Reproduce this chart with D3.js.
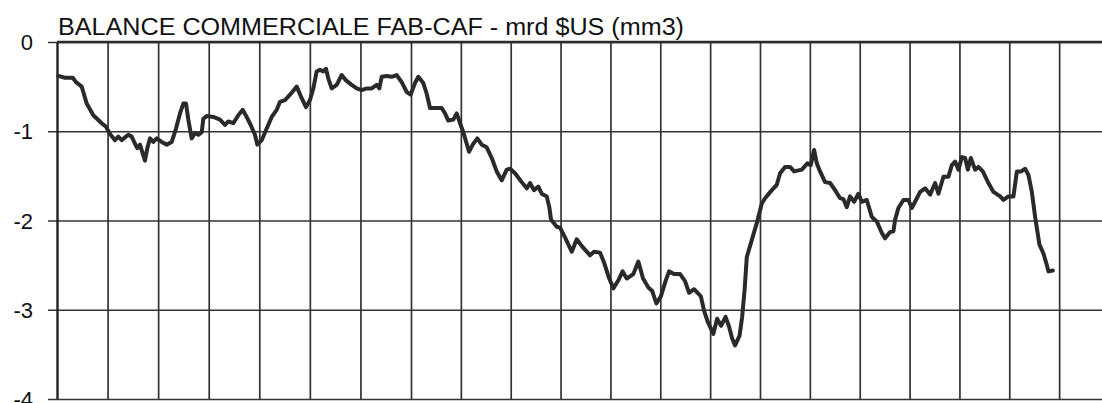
<!DOCTYPE html>
<html>
<head>
<meta charset="utf-8">
<script src="https://cdn.jsdelivr.net/npm/d3@7"></script>
<style>
  html, body { margin: 0; padding: 0; background: #fff; overflow: hidden; }
  svg { display: block; }
</style>
</head>
<body>
<svg id="chart" width="1102" height="403"></svg>
<script>
// ---- data (month index from start of series, trade balance in bn US$, 3-month moving average) ----
const title = "BALANCE COMMERCIALE FAB-CAF - mrd $US (mm3)";
const yTicks = [0, -1, -2, -3, -4];
const yTickLabels = ["0", "-1", "-2", "-3", "-4"];
const yearGridMonths = d3.range(0, 241, 12);
const months = [
  0.31, 1.90, 3.73, 4.51, 5.86, 6.24, 7.05, 8.61, 10.61, 11.63, 12.58, 13.76, 14.55, 15.35, 16.92, 17.73,
  18.51, 19.05, 19.70, 20.34, 20.88, 21.43, 22.07, 22.85, 23.66, 24.84, 26.03, 27.22, 28.24, 29.19, 29.97,
  30.61, 31.16, 31.96, 32.75, 33.53, 34.34, 34.72, 35.52, 37.09, 38.68, 39.86, 40.65, 41.83, 43.02, 44.06,
  45.01, 45.96, 46.98, 47.53, 48.57, 49.76, 50.95, 52.13, 52.92, 54.10, 55.29, 56.88, 58.06, 59.09, 60.03,
  60.82, 61.62, 62.41, 63.19, 63.83, 64.38, 65.18, 66.37, 67.56, 68.58, 69.93, 71.12, 72.30, 73.49, 74.68,
  75.86, 76.48, 77.05, 78.23, 79.42, 80.61, 81.79, 82.98, 83.93, 84.96, 85.76, 86.96, 87.78, 88.57, 89.78,
  91.39, 92.19, 92.98, 94.18, 95.00, 95.80, 96.59, 97.41, 97.96, 98.85, 99.96, 101.02, 102.22, 103.43,
  104.63, 105.83, 107.04, 107.83, 109.04, 110.65, 111.85, 112.65, 113.61, 114.65, 115.46, 116.67, 117.29,
  117.70, 119.08, 119.87, 121.07, 122.69, 123.89, 125.17, 127.09, 128.06, 129.50, 130.46, 131.55, 132.70,
  133.91, 134.92, 135.93, 137.52, 138.72, 139.85, 141.13, 142.07, 143.05, 144.14, 145.27, 146.11, 147.31,
  148.76, 149.96, 150.93, 152.13, 153.77, 154.54, 155.38, 156.78, 157.67, 158.63, 159.71, 160.56, 161.28,
  162.00, 163.08, 163.68, 164.29, 164.82, 166.02, 167.22, 168.43, 169.22, 170.84, 172.04, 172.83, 174.04,
  175.24, 176.20, 178.06, 179.41, 180.22, 181.02, 181.67, 182.46, 183.67, 184.87, 186.07, 187.28, 188.07,
  188.89, 189.68, 190.65, 191.68, 192.50, 193.70, 194.91, 196.11, 197.32, 198.11, 199.31, 200.11, 200.52,
  201.31, 202.52, 203.72, 204.54, 205.33, 206.54, 207.74, 208.94, 210.15, 210.94, 212.15, 213.35, 214.17,
  214.96, 215.76, 216.58, 217.37, 218.02, 218.74, 219.78, 220.57, 221.63, 222.98, 224.19, 225.80, 226.59,
  227.80, 229.00, 229.82, 230.85, 231.82, 232.61, 233.43, 234.22, 235.26, 236.22, 237.04, 237.42, 238.48
];
const balance = [
  -0.38, -0.40, -0.40, -0.45, -0.50, -0.56, -0.69, -0.82, -0.91, -0.95, -1.03, -1.10, -1.06, -1.10, -1.04, -1.06,
  -1.14, -1.19, -1.15, -1.25, -1.33, -1.19, -1.08, -1.12, -1.08, -1.12, -1.15, -1.12, -0.97, -0.80, -0.69,
  -0.69, -0.87, -1.08, -1.02, -1.04, -1.01, -0.86, -0.83, -0.84, -0.87, -0.93, -0.89, -0.91, -0.82, -0.76,
  -0.84, -0.93, -1.04, -1.15, -1.10, -0.97, -0.84, -0.76, -0.67, -0.65, -0.59, -0.50, -0.63, -0.73, -0.65,
  -0.52, -0.33, -0.31, -0.33, -0.30, -0.41, -0.52, -0.48, -0.37, -0.43, -0.48, -0.52, -0.54, -0.52, -0.52,
  -0.48, -0.52, -0.39, -0.38, -0.39, -0.37, -0.45, -0.56, -0.59, -0.46, -0.39, -0.46, -0.58, -0.74, -0.74,
  -0.74, -0.80, -0.88, -0.87, -0.80, -0.91, -1.01, -1.14, -1.23, -1.15, -1.08, -1.15, -1.18, -1.30,
  -1.45, -1.55, -1.43, -1.42, -1.47, -1.57, -1.64, -1.58, -1.66, -1.62, -1.70, -1.73, -1.85,
  -1.99, -2.07, -2.08, -2.19, -2.35, -2.21, -2.29, -2.39, -2.35, -2.36, -2.47, -2.63, -2.76,
  -2.67, -2.57, -2.65, -2.60, -2.46, -2.65, -2.75, -2.79, -2.93, -2.85, -2.68, -2.57, -2.60,
  -2.60, -2.68, -2.81, -2.77, -2.85, -3.01, -3.13, -3.27, -3.10, -3.18, -3.08, -3.19, -3.32,
  -3.40, -3.29, -3.09, -2.78, -2.41, -2.22, -2.03, -1.81, -1.75, -1.66, -1.60, -1.47, -1.40,
  -1.40, -1.45, -1.43, -1.36, -1.38, -1.21, -1.36, -1.45, -1.57, -1.58, -1.66, -1.75, -1.76,
  -1.85, -1.73, -1.79, -1.70, -1.79, -1.77, -1.96, -2.01, -2.14, -2.20, -2.13, -2.12, -1.99,
  -1.86, -1.77, -1.77, -1.86, -1.79, -1.68, -1.64, -1.71, -1.58, -1.70, -1.51, -1.51, -1.38,
  -1.34, -1.43, -1.29, -1.30, -1.43, -1.30, -1.43, -1.40, -1.45, -1.58, -1.68, -1.73, -1.77,
  -1.73, -1.73, -1.45, -1.45, -1.42, -1.49, -1.68, -1.96, -2.27, -2.37, -2.50, -2.57, -2.56
];

// ---- chart ----
const svg = d3.select("#chart");
const x = d3.scaleLinear().domain([0, 84, 252]).range([57, 411, 1109]);
const y = d3.scaleLinear().domain([0, -4]).range([42, 399]);
const gridColor = "#333";

// horizontal grid + ticks
const yAxis = d3.axisLeft(y).tickValues(yTicks)
  .tickFormat((d, i) => yTickLabels[i])
  .tickSize(-(1102 - 48)).tickPadding(15);
const gy = svg.append("g").attr("transform", "translate(48,0)").call(yAxis);
gy.select(".domain").remove();
gy.selectAll(".tick line").attr("stroke", gridColor).attr("stroke-width", 1.7);
gy.selectAll(".tick text")
  .attr("fill", "#111")
  .attr("font-family", "'Liberation Sans', Arial, sans-serif")
  .attr("font-size", 22)
  .attr("x", -15)
  .attr("dy", "0.35em");

// vertical grid (one per year)
const xAxis = d3.axisTop(x).tickValues(yearGridMonths).tickFormat("").tickSize(-(399 - 42));
const gx = svg.append("g").attr("transform", "translate(0,42)").call(xAxis);
gx.select(".domain").remove();
gx.selectAll(".tick line").attr("stroke", gridColor).attr("stroke-width", 1.7);
gx.selectAll(".tick").filter(d => d === 0).select("line").attr("stroke-width", 2.4).attr("stroke", "#222");

// top border emphasised
svg.append("line").attr("x1", x(0)).attr("x2", 1102).attr("y1", y(0)).attr("y2", y(0))
  .attr("stroke", "#2a2a2a").attr("stroke-width", 2.4);

// title
svg.append("text")
  .attr("x", 58).attr("y", 35)
  .attr("font-family", "'Liberation Sans', Arial, sans-serif")
  .attr("font-size", 23)
  .attr("fill", "#111")
  .attr("textLength", 626)
  .attr("lengthAdjust", "spacingAndGlyphs")
  .text(title);

// series line
const pts = months.map((m, i) => [m, balance[i]]);
const line = d3.line().x(d => x(d[0])).y(d => y(d[1]));
svg.append("path")
  .datum(pts)
  .attr("d", line)
  .attr("fill", "none")
  .attr("stroke", "#2a2a2a")
  .attr("stroke-width", 4)
  .attr("stroke-linejoin", "round")
  .attr("stroke-linecap", "round");
</script>
</body>
</html>
